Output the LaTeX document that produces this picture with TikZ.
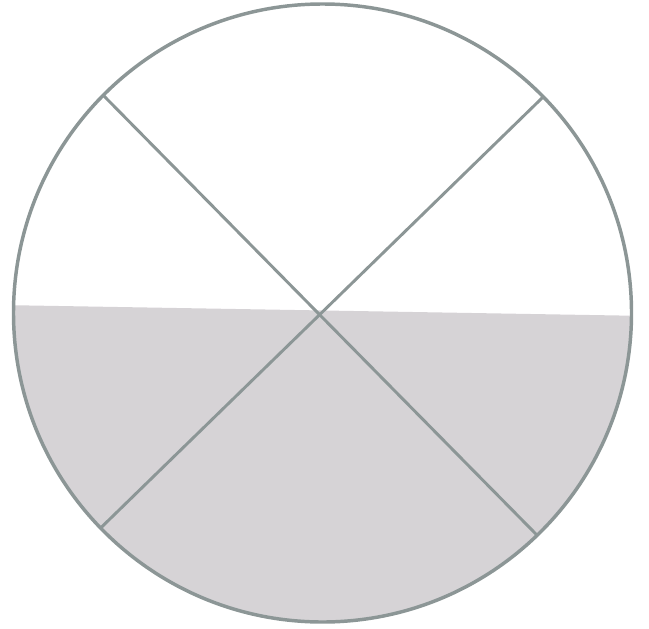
\documentclass[tikz,border=0pt]{standalone}
\usetikzlibrary{calc}
\begin{document}
\begin{tikzpicture}[x=0.75pt,y=-0.75pt,
  rim/.style={draw=linegray,line width=2.6pt},
  spoke/.style={draw=linegray,line width=2.2pt}]
\definecolor{linegray}{RGB}{140,150,150}
\definecolor{fillgray}{RGB}{214,211,214}
\useasboundingbox (0,0) rectangle (649,628);
\coordinate (c) at (322.5,313);
\begin{scope}
  \clip (c) circle (309);
  \fill[fillgray] (0,305) -- (649,316) -- (649,628) -- (0,628) -- cycle;
\end{scope}
\coordinate (tl) at ($(c)+(-135.2:309)$);
\coordinate (tr) at ($(c)+(-44.4:309)$);
\coordinate (bl) at ($(c)+(135.9:309)$);
\coordinate (br) at ($(c)+(46:309)$);
\draw[spoke] (tl) -- (br);
\draw[spoke] (tr) -- (bl);
\draw[rim] (c) circle (309);
\end{tikzpicture}
\end{document}
